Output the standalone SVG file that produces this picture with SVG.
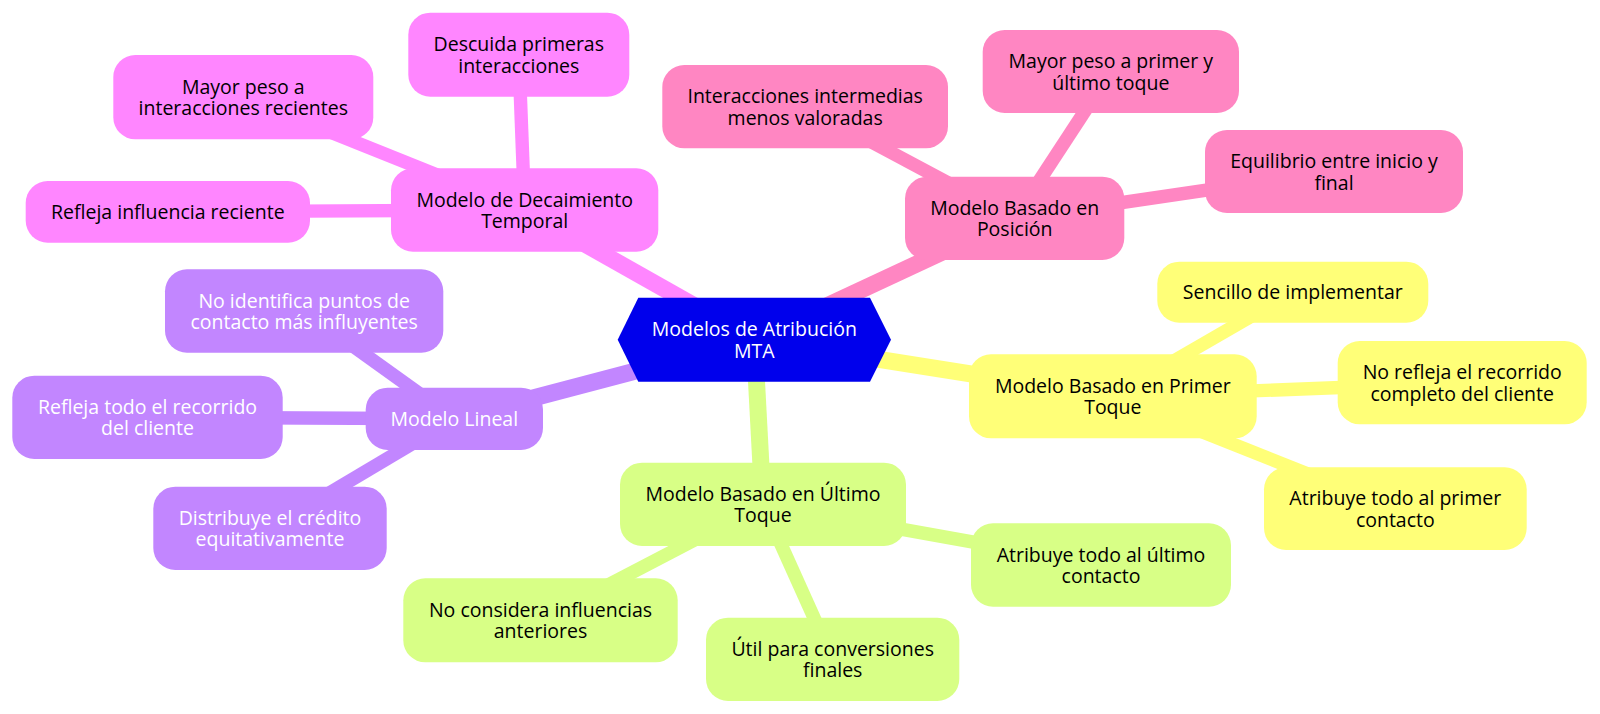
<svg xmlns="http://www.w3.org/2000/svg" width="1600" height="714" viewBox="0 0 1600 714">
<style>
text{font-family:"Open Sans","Noto Sans","DejaVu Sans",sans-serif;font-size:19.5px;text-anchor:middle;fill:#000}
.w text{fill:#fff}
.e0{stroke-width:17;fill:none}
.e1{stroke-width:13.4;fill:none}
.mag{fill:#FF86FF}.magE{stroke:#FF86FF}
.pnk{fill:#FF86C2}.pnkE{stroke:#FF86C2}
.yel{fill:#FFFF78}.yelE{stroke:#FFFF78}
.grn{fill:#D8FF86}.grnE{stroke:#D8FF86}
.pur{fill:#C286FF}.purE{stroke:#C286FF}
</style>
<rect width="1600" height="714" fill="#fff"/>
<g id="connectors">
<line class="e0 magE" x1="754.3" y1="339.7" x2="524.7" y2="210"/>
<line class="e0 pnkE" x1="754.3" y1="339.7" x2="1014.7" y2="218.3"/>
<line class="e0 yelE" x1="754.3" y1="339.7" x2="1112.8" y2="396.3"/>
<line class="e0 grnE" x1="754.3" y1="339.7" x2="763" y2="504.3"/>
<line class="e0 purE" x1="754.3" y1="339.7" x2="454.3" y2="418.8"/>
<line class="e1 magE" x1="524.7" y1="210" x2="518.8" y2="54.7"/>
<line class="e1 magE" x1="524.7" y1="210" x2="243.3" y2="97.2"/>
<line class="e1 magE" x1="524.7" y1="210" x2="167.8" y2="211.8"/>
<line class="e1 pnkE" x1="1014.7" y1="218.3" x2="805.2" y2="106.7"/>
<line class="e1 pnkE" x1="1014.7" y1="218.3" x2="1110.8" y2="71.5"/>
<line class="e1 pnkE" x1="1014.7" y1="218.3" x2="1334" y2="171.5"/>
<line class="e1 yelE" x1="1112.8" y1="396.3" x2="1292.8" y2="292.2"/>
<line class="e1 yelE" x1="1112.8" y1="396.3" x2="1462.2" y2="382.7"/>
<line class="e1 yelE" x1="1112.8" y1="396.3" x2="1395.3" y2="508.7"/>
<line class="e1 grnE" x1="763" y1="504.3" x2="1101" y2="565"/>
<line class="e1 grnE" x1="763" y1="504.3" x2="540.5" y2="620.3"/>
<line class="e1 grnE" x1="763" y1="504.3" x2="832.7" y2="659.3"/>
<line class="e1 purE" x1="454.3" y1="418.8" x2="304.2" y2="311"/>
<line class="e1 purE" x1="454.3" y1="418.8" x2="147.5" y2="417.3"/>
<line class="e1 purE" x1="454.3" y1="418.8" x2="270" y2="528.3"/>
</g>
<g id="root" class="w">
<polygon points="617.7,339.7 638.3,297.7 870,297.7 891,339.7 870,381.7 638.3,381.7" fill="#0000EC"/>
<text x="754.3" y="336.2">Modelos de Atribución<tspan x="754.3" dy="21.5">MTA</tspan></text>
</g>
<g id="decaimiento">
<rect class="mag" x="391" y="168.3" width="267.3" height="83.4" rx="22"/>
<text x="524.7" y="206.5">Modelo de Decaimiento<tspan x="524.7" dy="21.5">Temporal</tspan></text>
</g>
<g id="descuida">
<rect class="mag" x="408.3" y="12.7" width="221" height="84" rx="22"/>
<text x="518.8" y="51.2">Descuida primeras<tspan x="518.8" dy="21.5">interacciones</tspan></text>
</g>
<g id="mayor-peso-recientes">
<rect class="mag" x="113.3" y="55" width="260" height="84.3" rx="22"/>
<text x="243.3" y="93.7">Mayor peso a<tspan x="243.3" dy="21.5">interacciones recientes</tspan></text>
</g>
<g id="refleja-influencia">
<rect class="mag" x="25.7" y="181" width="284.3" height="61.7" rx="22"/>
<text x="167.8" y="218.6">Refleja influencia reciente</text>
</g>
<g id="posicion">
<rect class="pnk" x="905" y="176.7" width="219.3" height="83.3" rx="22"/>
<text x="1014.7" y="214.8">Modelo Basado en<tspan x="1014.7" dy="21.5">Posición</tspan></text>
</g>
<g id="intermedias">
<rect class="pnk" x="662.3" y="65" width="285.7" height="83.3" rx="22"/>
<text x="805.2" y="103.2">Interacciones intermedias<tspan x="805.2" dy="21.5">menos valoradas</tspan></text>
</g>
<g id="primer-ultimo">
<rect class="pnk" x="982.7" y="30" width="256.3" height="83" rx="22"/>
<text x="1110.8" y="68">Mayor peso a primer y<tspan x="1110.8" dy="21.5">último toque</tspan></text>
</g>
<g id="equilibrio">
<rect class="pnk" x="1205" y="130" width="258" height="83" rx="22"/>
<text x="1334" y="168">Equilibrio entre inicio y<tspan x="1334" dy="21.5">final</tspan></text>
</g>
<g id="primer-toque">
<rect class="yel" x="969" y="354.3" width="287.7" height="84" rx="22"/>
<text x="1112.8" y="392.8">Modelo Basado en Primer<tspan x="1112.8" dy="21.5">Toque</tspan></text>
</g>
<g id="sencillo">
<rect class="yel" x="1157.3" y="261.7" width="271" height="61" rx="22"/>
<text x="1292.8" y="299">Sencillo de implementar</text>
</g>
<g id="no-refleja">
<rect class="yel" x="1337.7" y="341" width="249" height="83.3" rx="22"/>
<text x="1462.2" y="379.2">No refleja el recorrido<tspan x="1462.2" dy="21.5">completo del cliente</tspan></text>
</g>
<g id="atribuye-primer">
<rect class="yel" x="1264" y="467.3" width="262.7" height="82.7" rx="22"/>
<text x="1395.3" y="505.2">Atribuye todo al primer<tspan x="1395.3" dy="21.5">contacto</tspan></text>
</g>
<g id="ultimo-toque">
<rect class="grn" x="620" y="462.7" width="286" height="83.3" rx="22"/>
<text x="763" y="500.8">Modelo Basado en Último<tspan x="763" dy="21.5">Toque</tspan></text>
</g>
<g id="atribuye-ultimo">
<rect class="grn" x="971" y="523.3" width="260" height="83.4" rx="22"/>
<text x="1101" y="561.5">Atribuye todo al último<tspan x="1101" dy="21.5">contacto</tspan></text>
</g>
<g id="no-considera">
<rect class="grn" x="403.3" y="578.3" width="274.4" height="84" rx="22"/>
<text x="540.5" y="616.8">No considera influencias<tspan x="540.5" dy="21.5">anteriores</tspan></text>
</g>
<g id="util">
<rect class="grn" x="706" y="617.7" width="253.3" height="83.3" rx="22"/>
<text x="832.7" y="655.8">Útil para conversiones<tspan x="832.7" dy="21.5">finales</tspan></text>
</g>
<g id="lineal" class="w">
<rect class="pur" x="365.7" y="387.7" width="177.3" height="62.3" rx="22"/>
<text x="454.3" y="425.6">Modelo Lineal</text>
</g>
<g id="no-identifica" class="w">
<rect class="pur" x="165" y="269.3" width="278.3" height="83.4" rx="22"/>
<text x="304.2" y="307.5">No identifica puntos de<tspan x="304.2" dy="21.5">contacto más influyentes</tspan></text>
</g>
<g id="refleja-todo" class="w">
<rect class="pur" x="12.3" y="375.7" width="270.4" height="83.3" rx="22"/>
<text x="147.5" y="413.8">Refleja todo el recorrido<tspan x="147.5" dy="21.5">del cliente</tspan></text>
</g>
<g id="distribuye" class="w">
<rect class="pur" x="153.3" y="486.7" width="233.4" height="83.3" rx="22"/>
<text x="270" y="524.8">Distribuye el crédito<tspan x="270" dy="21.5">equitativamente</tspan></text>
</g>
</svg>
